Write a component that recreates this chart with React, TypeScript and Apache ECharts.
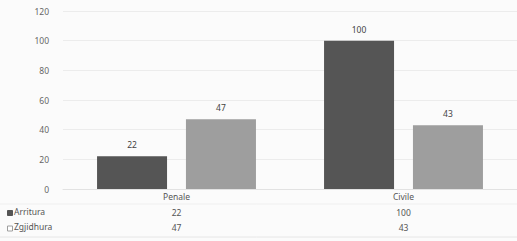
import React, { useEffect, useRef } from "react";
import * as echarts from "echarts";

const categories = ["Penale", "Civile"];
const seriesNames = ["Arritura", "Zgjidhura"];
const arritura = [22, 100];
const zgjidhura = [47, 43];
const seriesColors = ["#555555", "#9e9e9e"];

export default function App() {
  const ref = useRef<HTMLDivElement>(null);
  useEffect(() => {
    if (!ref.current) return;
    const chart = echarts.init(ref.current, undefined, { renderer: "svg" });
    const font = "Noto Sans";
    const gridBottomY = 189;
    chart.setOption({
      animation: false,
      backgroundColor: "#fbfbfb",
      textStyle: { fontFamily: font },
      grid: { left: 63, right: -6, top: 11, bottom: 241 - gridBottomY, containLabel: false },
      xAxis: {
        type: "category",
        data: categories,
        axisLine: { show: true, lineStyle: { color: "#e2e2e2" } },
        axisTick: { show: false },
        axisLabel: {
          margin: 0,
          formatter: (v: string, i: number) =>
            `{c|${v}}\n{v|${arritura[i]}}\n{v|${zgjidhura[i]}}`,
          rich: {
            c: { fontSize: 8.5, color: "#555", lineHeight: 15.5, fontFamily: font },
            v: { fontSize: 8.5, color: "#555", lineHeight: 15.5, fontFamily: font },
          },
        },
      },
      yAxis: {
        type: "value",
        min: 0,
        max: 120,
        interval: 20,
        axisLine: { show: false },
        axisTick: { show: false },
        axisLabel: { fontSize: 8.5, color: "#666", margin: 14, fontFamily: font },
        splitLine: { lineStyle: { color: "#ececec" } },
      },
      series: [
        {
          name: seriesNames[0],
          type: "bar",
          data: arritura,
          barWidth: 70,
          barGap: "27%",
          itemStyle: { color: seriesColors[0] },
          label: { show: true, position: "top", distance: 7, fontSize: 8.5, color: "#444", fontFamily: font },
        },
        {
          name: seriesNames[1],
          type: "bar",
          data: zgjidhura,
          barWidth: 70,
          itemStyle: { color: seriesColors[1] },
          label: { show: true, position: "top", distance: 7, fontSize: 8.5, color: "#444", fontFamily: font },
        },
      ],
      graphic: [
        ...seriesNames.flatMap((n, i) => [
          {
            type: "rect",
            left: 7,
            top: 210 + i * 15.5,
            shape: { width: 5, height: 5 },
            style: { fill: i === 0 ? seriesColors[0] : "#fff", stroke: seriesColors[i], lineWidth: 1 },
          },
          {
            type: "text",
            left: 14,
            top: 206.5 + i * 15.5,
            style: { text: n, fontSize: 8.5, fill: "#555", fontFamily: font },
          },
        ]),
        {
          type: "line",
          shape: { x1: 0, y1: 204, x2: 517, y2: 204 },
          style: { stroke: "#efefef", lineWidth: 1 },
        },
        {
          type: "line",
          shape: { x1: 0, y1: 237, x2: 517, y2: 237 },
          style: { stroke: "#e6e6e6", lineWidth: 1 },
        },
      ],
    });
    return () => chart.dispose();
  }, []);
  return <div ref={ref} style={{ position: "fixed", left: 0, top: 0, width: 517, height: 241 }} />;
}
